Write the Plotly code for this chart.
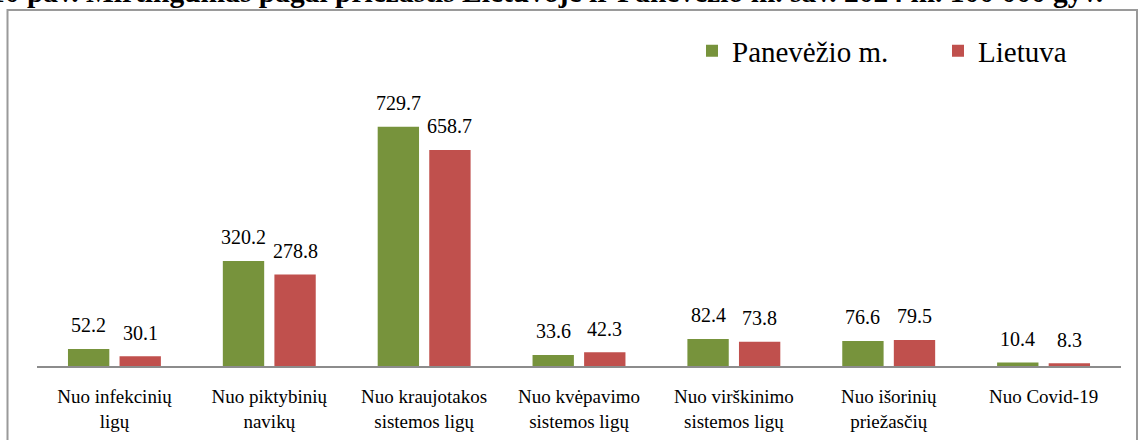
import plotly.graph_objects as go

categories = ["Nuo infekcinių<br>ligų", "Nuo piktybinių<br>navikų", "Nuo kraujotakos<br>sistemos ligų",
              "Nuo kvėpavimo<br>sistemos ligų", "Nuo virškinimo<br>sistemos ligų", "Nuo išorinių<br>priežasčių",
              "Nuo Covid-19"]
panevezys = [52.2, 320.2, 729.7, 33.6, 82.4, 76.6, 10.4]
lietuva = [30.1, 278.8, 658.7, 42.3, 73.8, 79.5, 8.3]
series_names = ["Panevėžio m.", "Lietuva"]
title_text = "10 pav. Mirtingumas pagal priežastis Lietuvoje ir Panevėžio m. sav. 2024 m. 100 000 gyv."

GREEN = "#77933C"
RED = "#C0504D"
FONT = "Liberation Serif"

W, H = 1138, 440
ML, MR, MT, MB = 37, 17, 38, 74
PW = W - ML - MR
PH = H - MT - MB

def px_x(px):
    return (px - ML) / PW

def px_y(py):
    return 1 - (py - MT) / PH

fig = go.Figure()
fig.add_trace(go.Bar(x=categories, y=panevezys, name=series_names[0], marker_color=GREEN,
                     width=0.267, offset=-0.300, marker_line_width=0, legend="legend"))
fig.add_trace(go.Bar(x=categories, y=lietuva, name=series_names[1], marker_color=RED,
                     width=0.267, offset=0.033, marker_line_width=0, legend="legend2"))

annotations = []
for c, v in zip(categories, panevezys):
    annotations.append(dict(x=c, y=v, text=f"{v:.1f}", showarrow=False, xshift=-25.8, yshift=23.5,
                            yanchor="middle", font=dict(family=FONT, size=20, color="black")))
for c, v in zip(categories, lietuva):
    annotations.append(dict(x=c, y=v, text=f"{v:.1f}", showarrow=False, xshift=25.8, yshift=23.5,
                            yanchor="middle", font=dict(family=FONT, size=20, color="black")))
annotations.append(dict(xref="paper", yref="paper", x=px_x(1105), y=px_y(-8), xanchor="right",
                        yanchor="middle", text=f"<b>{title_text}</b>", showarrow=False,
                        font=dict(family=FONT, size=29.5, color="black")))

legend_common = dict(orientation="h", yanchor="middle", y=px_y(51), xanchor="left",
                     font=dict(family=FONT, size=29, color="black"), bgcolor="rgba(0,0,0,0)")

fig.update_layout(
    width=W, height=H,
    margin=dict(l=ML, r=MR, t=MT, b=MB),
    paper_bgcolor="white", plot_bgcolor="white",
    showlegend=True,
    legend=dict(x=px_x(692), **legend_common),
    legend2=dict(x=px_x(938), **legend_common),
    xaxis=dict(showline=True, linecolor="#8C8C8C", linewidth=2, ticks="", showgrid=False,
               ticklabelstandoff=12, automargin=False,
               tickfont=dict(family=FONT, size=19, color="black"), fixedrange=True),
    yaxis=dict(range=[0, 1000], visible=False, showgrid=False, fixedrange=True),
    annotations=annotations,
    shapes=[dict(type="rect", xref="paper", yref="paper", x0=px_x(7.5), x1=px_x(1137),
                 y0=px_y(460), y1=px_y(10), line=dict(color="#9A9A9A", width=2),
                 fillcolor="rgba(0,0,0,0)", layer="below")],
)

fig.write_html("out.html", config={"displayModeBar": False},
               post_script="document.body.style.margin='0';document.body.style.overflow='hidden';")
